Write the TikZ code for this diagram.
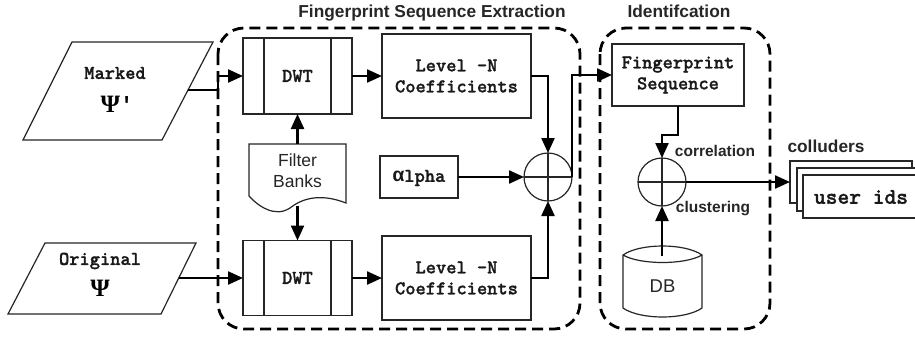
\documentclass[tikz,border=0pt]{standalone}
\usepackage{fontspec}
\setmainfont{Liberation Sans}
\newfontfamily\greekmono{Liberation Mono}
\newfontfamily\serifg{Liberation Serif}
\newfontfamily\courb{lmmonolt10-bold.otf}[FakeBold=1.2]
\usetikzlibrary{arrows.meta,shapes.misc}
\begin{document}
\begin{tikzpicture}[x=1pt,y=-1pt,
  thinline/.style={draw=black!85, line width=1.2pt},
  box/.style={thinline, rectangle, inner sep=0pt, outer sep=0pt},
  conn/.style={line width=2.3pt, -{Triangle[length=15pt,width=13pt]}},
  region/.style={line width=2.8pt, dash pattern=on 11pt off 6pt, rounded corners=26pt},
  mono/.style={font=\courb\fontsize{19.5}{21}\selectfont, align=center, text=black!90},
  sanstxt/.style={font=\fontsize{17.5}{21}\selectfont, align=center, text=black!85},
  titletxt/.style={font=\bfseries\fontsize{17.3}{20}\selectfont, text=black!85},
  smalltitle/.style={font=\bfseries\fontsize{15.5}{18}\selectfont, text=black!85},
  sumnode/.style={circle, thinline, minimum size=48pt, inner sep=0pt, outer sep=0pt},
  chamf/.style={thinline, fill=white, chamfered rectangle, chamfered rectangle corners={north west, north east}, inner sep=0pt, outer sep=0pt}
]
\useasboundingbox (0,0) rectangle (915,338);
\clip (0,0) rectangle (915,338);
\fill[white] (0,0) rectangle (915,338);

% dashed regions
\draw[region] (218,28) rectangle (580,329);
\draw[region] (600,28) rectangle (770,329);
\node[titletxt] (t1) at (432,13) {Fingerprint Sequence Extraction};
\node[titletxt] (t2) at (679,11) {Identifcation};

% input parallelograms
\draw[thinline] (72,42) -- (213,42) -- (162,140) -- (23,140) -- cycle;
\node[mono] (mk) at (115,73) {Marked};
\node[font=\serifg\bfseries\fontsize{25}{25}\selectfont] (psi1) at (117,104) {Ψ{\greekmono\bfseries\fontsize{22}{22}\selectfont '}};
\coordinate (mkE) at (188,90);
\coordinate (j1) at (218,90);

\draw[thinline] (45,243) -- (196,243) -- (161,314) -- (8,314) -- cycle;
\node[mono] (or) at (100,261) {Original};
\node[font=\serifg\bfseries\fontsize{25}{25}\selectfont] (psi2) at (100,288) {Ψ};
\coordinate (orE) at (179,278);

% DWT boxes
\node[box, mono, minimum width=109pt, minimum height=76pt] (dwt1) at (297.5,76) {DWT};
\draw[thinline] ([xshift=21pt]dwt1.north west) -- ([xshift=21pt]dwt1.south west);
\draw[thinline] ([xshift=-21pt]dwt1.north east) -- ([xshift=-21pt]dwt1.south east);
\node[box, mono, minimum width=109pt, minimum height=75pt] (dwt2) at (297.5,278) {DWT};
\draw[thinline] ([xshift=21pt]dwt2.north west) -- ([xshift=21pt]dwt2.south west);
\draw[thinline] ([xshift=-21pt]dwt2.north east) -- ([xshift=-21pt]dwt2.south east);

% Level-N boxes
\node[box, mono, minimum width=149pt, minimum height=84pt] (lv1) at (456.5,76) {Level -N\\Coefficients};
\node[box, mono, minimum width=149pt, minimum height=84pt] (lv2) at (456.5,278) {Level -N\\Coefficients};

% Filter banks document
\draw[thinline] (249,196) -- (249,144) -- (346,144) -- (346,203)
  .. controls (318,192) and (300,200) .. (290,208)
  .. controls (275,218) and (258,206) .. (249,196);
\node[sanstxt] (fb) at (297.5,171) {Filter\\Banks};
\coordinate (fbT) at (297.5,144);
\coordinate (fbB) at (297.5,206);

% alpha
\node[chamf, chamfered rectangle xsep=8pt, chamfered rectangle ysep=8pt, minimum width=78pt, minimum height=42pt] (alpha) at (419,177) {};
\node[font=\fontsize{19.5}{21}\selectfont, text=black!90] (alphatxt) at (419,178) {{\greekmono\bfseries α}{\courb lpha}};

% sum nodes
\node[sumnode] (s1) at (548,177) {};
\draw[thinline] (s1.north) -- (s1.south) (s1.west) -- (s1.east);
\node[sumnode] (s2) at (662,182) {};
\draw[thinline] (s2.north) -- (s2.south) (s2.west) -- (s2.east);

% fingerprint sequence
\node[box, mono, minimum width=132pt, minimum height=62pt] (fs) at (678,75) {Fingerprint\\Sequence};

% DB cylinder
\draw[thinline] (623,255) .. controls (640,243) and (685,243) .. (702,255)
  -- (702,308) .. controls (685,320) and (640,320) .. (623,308) -- cycle;
\draw[thinline] (623,255) .. controls (640,265) and (685,265) .. (702,255);
\node[sanstxt, font=\fontsize{18.5}{21}\selectfont] (db) at (662.5,286) {DB};
\coordinate (dbT) at (662,256);

\node[smalltitle] (corr) at (715,151) {correlation};
\node[smalltitle] (clus) at (713,209) {clustering};

% colluders stack
\node[chamf, chamfered rectangle xsep=14pt, chamfered rectangle ysep=13pt, minimum width=122pt, minimum height=42pt] (u1) at (851,182) {};
\node[chamf, chamfered rectangle xsep=14pt, chamfered rectangle ysep=13pt, minimum width=122pt, minimum height=43pt] (u2) at (858,189.5) {};
\node[chamf, chamfered rectangle xsep=14pt, chamfered rectangle ysep=13pt, minimum width=123pt, minimum height=43pt] (u3) at (864.5,196.5) {};
\node[mono, font=\courb\fontsize{22.4}{24}\selectfont] (ids) at (861,197) {user ids};
\node[titletxt] (coll) at (826,146) {colluders};

% connectors
\draw[conn] (mkE) -- (j1) |- (dwt1.west);
\draw[conn] (orE) -- (dwt2.west);
\draw[conn] (dwt1.east) -- (lv1.west);
\draw[conn] (dwt2.east) -- (lv2.west);
\draw[conn] (fbT) -- (dwt1.south);
\draw[conn] (fbB) -- (dwt2.north);
\draw[conn] (lv1.east) -| (s1.north);
\draw[conn] (lv2.east) -| (s1.south);
\draw[conn] (alpha.east) -- (s1.west);
\draw[conn] (s1.east) |- (fs.west);
\draw[conn] (fs.south) -- ++(0,29) -| (s2.north);
\draw[conn] (dbT) -- (s2.south);
\draw[conn] (s2.east) -- (u1.west);
\end{tikzpicture}
\end{document}
